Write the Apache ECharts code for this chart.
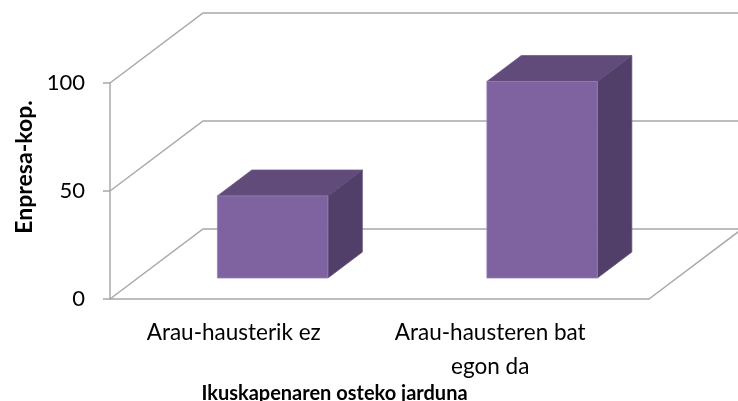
<!DOCTYPE html>
<html>
<head>
<meta charset="utf-8">
<script src="https://cdn.jsdelivr.net/npm/echarts@6/dist/echarts.min.js"></script>
<style>
  html, body { margin: 0; padding: 0; background: #fff; }
  #chart { width: 738px; height: 401px; }
</style>
</head>
<body>
<div id="chart"></div>
<script>
// datuak
const categories = ['Arau-hausterik ez', 'Arau-hausteren bat\negon da']
const values = [38, 91]
const yTicks = [0, 50, 100]

// 3D itxura: hormaren sakonera (px)
const DX = 93
const DY = -70
const FONT = 'Lato'

const chart = echarts.init(document.getElementById('chart'))

// atzeko horma eta zorua, ardatzaren eskalatik
function renderWalls (params, api) {
  const cs = params.coordSys
  const y = api.coord([0, api.value(1)])[1]
  const x0 = cs.x
  const x1 = cs.x + cs.width
  const style = { stroke: '#a8a8a8', lineWidth: 1.5, fill: null }
  const children = [{
    type: 'polyline',
    shape: { points: [[x0, y], [x0 + DX, y + DY], [x1 + DX + 10, y + DY]] },
    style: style
  }]
  if (api.value(1) === 0) {
    children.push({
      type: 'line',
      shape: { x1: x1, y1: y, x2: x1 + DX, y2: y + DY },
      style: style
    })
  }
  return { type: 'group', children: children }
}

// barra "3D": aurrea, goia eta alboa
function renderBar (params, api) {
  const top = api.coord([api.value(0), api.value(1)])
  const base = api.coord([api.value(0), 0])
  const band = api.size([1, 0])[0]
  const w = band * 0.41
  const fx = DX * 0.3
  const fy = DY * 0.3
  const bx = DX * 0.37
  const by = DY * 0.37
  const l = top[0] - w / 2 + fx
  const r = l + w
  const yt = top[1] + fy
  const yb = base[1] + fy
  return {
    type: 'group',
    children: [
      {
        type: 'polygon',
        shape: { points: [[l, yt], [l + bx, yt + by], [r + bx, yt + by], [r, yt]] },
        style: { fill: '#604b7b', stroke: '#6f5a8c', lineWidth: 0.8 }
      },
      {
        type: 'polygon',
        shape: { points: [[r, yt], [r + bx, yt + by], [r + bx, yb + by], [r, yb]] },
        style: { fill: '#513f69', stroke: '#604e78', lineWidth: 0.8 }
      },
      {
        type: 'polygon',
        shape: { points: [[l, yt], [r, yt], [r, yb], [l, yb]] },
        style: { fill: '#7f63a1', stroke: '#9580b3', lineWidth: 0.8 }
      }
    ]
  }
}

const option = {
  backgroundColor: '#fff',
  animation: false,
  grid: { left: 110, right: 89, top: 83, bottom: 102, outerBoundsMode: 'none' },
  xAxis: {
    type: 'category',
    data: categories,
    name: 'Ikuskapenaren osteko jarduna',
    nameLocation: 'middle',
    nameGap: 81,
    nameTextStyle: {
      fontFamily: FONT, fontSize: 20, fontWeight: 'bold', color: '#000',
      padding: [0, 90, 0, 0]
    },
    axisLine: { lineStyle: { color: '#a8a8a8', width: 1.5 } },
    axisTick: { show: false },
    axisLabel: {
      interval: 0,
      margin: 17,
      formatter: (val, idx) => '{c' + idx + '|' + val + '}',
      rich: {
        c0: { fontFamily: FONT, fontSize: 22.5, lineHeight: 34, color: '#000', padding: [0, 22, 0, 0] },
        c1: { fontFamily: FONT, fontSize: 22.5, lineHeight: 34, color: '#000', padding: [0, 48, 0, 0] }
      }
    },
    splitLine: { show: false }
  },
  yAxis: {
    type: 'value',
    min: 0,
    max: 100,
    interval: 50,
    name: 'Enpresa-kop.',
    nameLocation: 'middle',
    nameRotate: 90,
    nameGap: 72,
    nameTextStyle: {
      fontFamily: FONT, fontSize: 23, fontWeight: 'bold', color: '#000',
      padding: [0, 0, 0, 48]
    },
    axisLine: { show: true, lineStyle: { color: '#a8a8a8', width: 1.5 } },
    axisTick: { show: true, length: 7, lineStyle: { color: '#a8a8a8', width: 1.5 } },
    axisLabel: { fontFamily: FONT, fontSize: 22, color: '#000', margin: 25 },
    splitLine: { show: false }
  },
  series: [
    {
      type: 'custom',
      name: 'walls',
      renderItem: renderWalls,
      clip: false,
      silent: true,
      z: 1,
      data: yTicks.map(v => [0, v])
    },
    {
      type: 'custom',
      name: 'Enpresa-kop.',
      renderItem: renderBar,
      clip: false,
      z: 2,
      data: values.map((v, i) => [i, v])
    }
  ]
}

chart.setOption(option)
window.addEventListener('resize', () => {
  chart.resize()
})
</script>
</body>
</html>
